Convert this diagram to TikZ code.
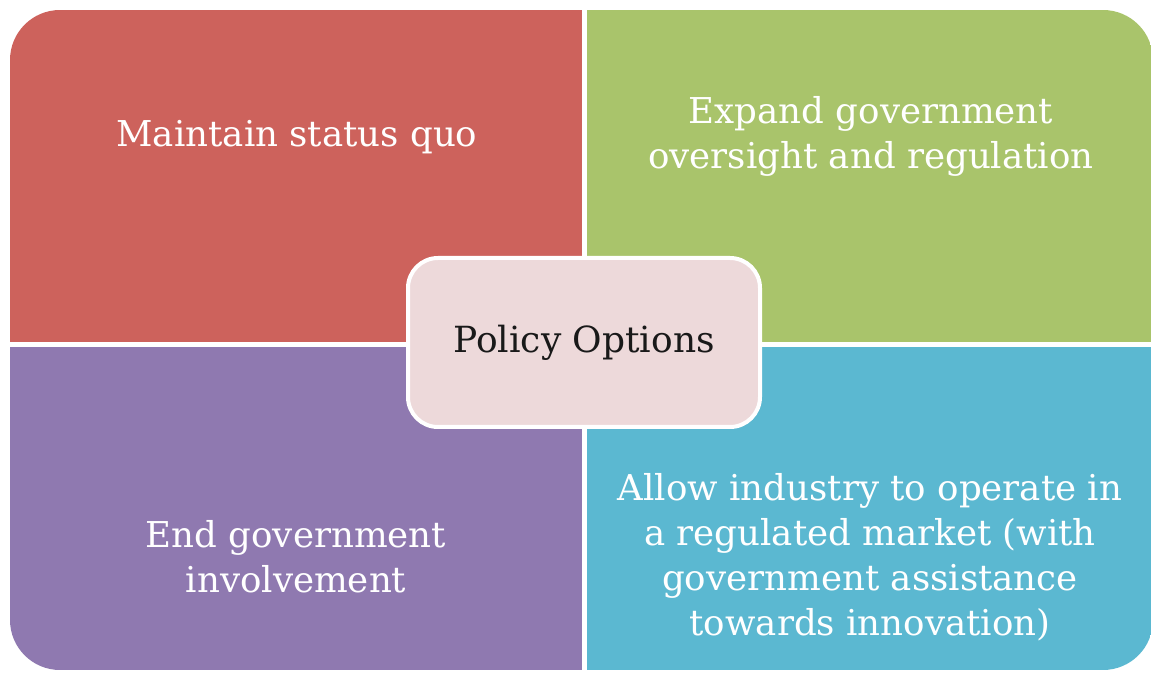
\documentclass[tikz,border=0pt]{standalone}
\usepackage{fontspec}
\setmainfont{DejaVu Serif}
\definecolor{quadred}{HTML}{CD625C}
\definecolor{quadgreen}{HTML}{A9C46B}
\definecolor{quadpurple}{HTML}{8F79B0}
\definecolor{quadblue}{HTML}{5BB8D1}
\definecolor{hubpink}{HTML}{EDD9DA}
\begin{document}
\begin{tikzpicture}[x=0.5pt,y=-0.5pt,line join=round,
  opt/.style={text=white,align=center,font=\fontsize{17.8}{22.5}\selectfont},
  hub/.style={draw=white,line width=2pt,fill=hubpink,rounded corners=15pt,
    minimum width=176pt,minimum height=84.5pt,text=black!90,
    font=\fontsize{18}{22.5}\selectfont}]
\useasboundingbox (0,0) rectangle (1151,673);
% four quadrants inside one rounded frame
\begin{scope}
\clip[rounded corners=25pt] (10,10) rectangle (1153,670);
\fill[quadred] (10,10) rectangle (584.5,344.5);
\fill[quadgreen] (584.5,10) rectangle (1153,344.5);
\fill[quadpurple] (10,344.5) rectangle (584.5,670);
\fill[quadblue] (584.5,344.5) rectangle (1153,670);
\end{scope}
\draw[white,line width=2.5pt] (584.5,10) -- (584.5,670);
\draw[white,line width=2.5pt] (10,344.5) -- (1153,344.5);
% labels
\node[opt] (quo) at (297,137) {Maintain status quo};
\node[opt] (expand) at (871,136) {Expand government\\oversight and regulation};
\node[opt] (endgov) at (296,557) {End government\\involvement};
\node[opt] (market) at (870,557) {Allow industry to operate in\\a regulated market (with\\government assistance\\towards innovation)};
\node[hub] (policy) at (584,342.5) {Policy Options};
\end{tikzpicture}
\end{document}
